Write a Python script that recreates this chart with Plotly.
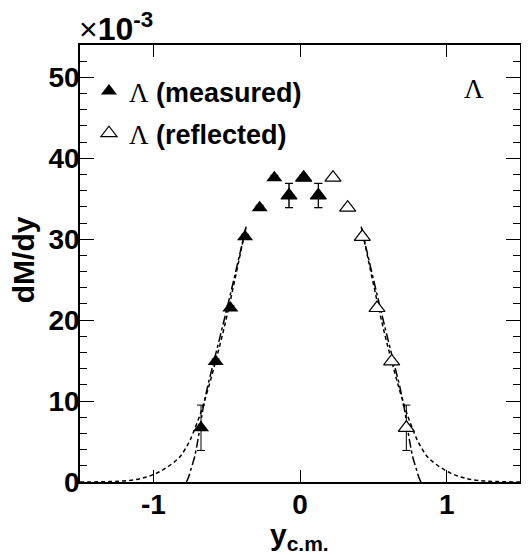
import plotly.graph_objects as go

# ---- data (dM/dy in units of 1e-3) ----
meas_x = [-0.675, -0.575, -0.475, -0.375, -0.275, -0.175, -0.075, 0.025, 0.125]
meas_y = [6.7, 14.9, 21.5, 30.3, 33.9, 37.6, 35.4, 37.6, 35.4]
meas_err = [2.8, 0.3, 0.3, 0.3, 0.3, 0.3, 1.5, 0.3, 1.5]

refl_x = [0.725, 0.625, 0.525, 0.425, 0.325, 0.225, 0.125, 0.025, -0.075]
refl_y = [6.7, 14.9, 21.5, 30.3, 33.9, 37.6, 35.4, 37.6, 35.4]
refl_err = [2.8, 0.3, 0.3, 0.3, 0.3, 0.3, 1.5, 0.3, 1.5]

# wide (dotted) fit curve, left and right wings
fitA_left_x = [-1.50, -1.30, -1.16, -1.06, -0.98, -0.90, -0.82, -0.76, -0.73, -0.68,
               -0.63, -0.58, -0.53, -0.48, -0.43, -0.40, -0.367]
fitA_left_y = [0.0, 0.05, 0.2, 0.55, 1.07, 1.9, 3.1, 4.8, 6.0, 8.4,
               11.3, 14.6, 18.1, 22.0, 26.2, 28.8, 31.6]
fitA_right_x = [1.55, 1.35, 1.21, 1.11, 1.03, 0.95, 0.87, 0.81, 0.78, 0.73,
                0.68, 0.63, 0.58, 0.53, 0.48, 0.45, 0.417]
fitA_right_y = [0.0, 0.05, 0.2, 0.55, 1.07, 1.9, 3.1, 4.8, 6.0, 8.4,
                11.3, 14.6, 18.1, 22.0, 26.2, 28.8, 31.6]

# steep (dash-dotted) fit curve, left and right wings
fitB_left_x = [-0.775, -0.76, -0.74, -0.72, -0.70, -0.68, -0.66, -0.63, -0.60,
               -0.55, -0.50, -0.45, -0.40, -0.367]
fitB_left_y = [0.0, 0.6, 1.8, 3.0, 4.8, 7.0, 9.2, 11.8, 14.0,
               17.6, 21.3, 25.1, 29.0, 31.6]
fitB_right_x = [0.825, 0.81, 0.79, 0.77, 0.75, 0.73, 0.71, 0.68, 0.65,
                0.60, 0.55, 0.50, 0.45, 0.417]
fitB_right_y = [0.0, 0.6, 1.8, 3.0, 4.8, 7.0, 9.2, 11.8, 14.0,
                17.6, 21.3, 25.1, 29.0, 31.6]

x_tickvals = [-1, 0, 1]
x_ticktext = ["-1", "0", "1"]
y_tickvals = [0, 10, 20, 30, 40, 50]
y_ticktext = ["0", "10", "20", "30", "40", "50"]

LAMBDA = "<span style='font-family:Liberation Serif;font-weight:normal'>\u039b</span>"

fig = go.Figure()

for xs, ys in [(fitA_left_x, fitA_left_y), (fitA_right_x, fitA_right_y)]:
    fig.add_trace(go.Scatter(x=xs, y=ys, mode="lines", line_shape="spline",
                             line=dict(color="black", width=1.5, dash="4px,3px"),
                             showlegend=False, hoverinfo="skip"))
for xs, ys in [(fitB_left_x, fitB_left_y), (fitB_right_x, fitB_right_y)]:
    fig.add_trace(go.Scatter(x=xs, y=ys, mode="lines", line_shape="spline",
                             line=dict(color="black", width=1.5, dash="dashdot"),
                             showlegend=False, hoverinfo="skip"))

fig.add_trace(go.Scatter(
    x=refl_x, y=refl_y, mode="markers",
    name=LAMBDA + " <b>(reflected)</b>", legendrank=2, legendgroup="refl",
    marker=dict(symbol="triangle-up", size=14, color="white",
                line=dict(color="black", width=1.2)),
    error_y=dict(type="data", array=refl_err, color="black", thickness=1, width=4),
))
fig.add_trace(go.Scatter(
    x=meas_x, y=meas_y, mode="markers",
    name=LAMBDA + " <b>(measured)</b>", legendrank=1, legendgroup="meas",
    marker=dict(symbol="triangle-up", size=14, color="black",
                line=dict(color="black", width=0)),
    error_y=dict(type="data", array=meas_err, color="black", thickness=1, width=4),
))

# page has an 8px body margin; layout numbers below are figure pixels
OFF = 8
L, R, T, B = 72, 7, 37, 73
W, H = 521, 547
PW, PH = W - L - R, H - T - B


def px(xs):
    """screen x pixel -> paper x"""
    return (xs - OFF - L) / PW


def py(ys):
    """screen y pixel -> paper y"""
    return (T + PH - (ys - OFF)) / PH


fig.update_layout(
    width=W, height=H,
    margin=dict(l=L, r=R, t=T, b=B),
    paper_bgcolor="white", plot_bgcolor="white",
    font=dict(family="Liberation Sans, Arial, sans-serif", color="black"),
    showlegend=True,
    legend=dict(x=px(89), y=py(67), xanchor="left", yanchor="top",
                bgcolor="rgba(0,0,0,0)", borderwidth=0,
                font=dict(size=27, color="black"), itemwidth=30,
                tracegroupgap=4),
    xaxis=dict(range=[-1.5, 1.5], tickvals=x_tickvals, ticktext=x_ticktext,
               ticks="inside", ticklen=12, tickwidth=1.2, tickcolor="black",
               showline=True, linecolor="black", linewidth=1.5, mirror="allticks",
               showgrid=False, zeroline=False, ticklabelstandoff=-3,
               tickfont=dict(size=28, weight="bold")),
    yaxis=dict(range=[0, 54], tickvals=y_tickvals, ticktext=y_ticktext,
               ticks="inside", ticklen=14, tickwidth=1.2, tickcolor="black",
               minor=dict(dtick=2, ticks="inside", ticklen=7, tickcolor="black",
                          tickwidth=1.2, showgrid=False),
               showline=True, linecolor="black", linewidth=1.5, mirror="allticks",
               showgrid=False, zeroline=False,
               tickfont=dict(size=28, weight="bold"), ticklabelstandoff=-7),
    annotations=[
        dict(text="\u00d7<b>10</b><sup><b>-3</b></sup>", xref="paper", yref="paper",
             x=px(77), y=py(49), xanchor="left", yanchor="bottom", showarrow=False,
             font=dict(size=32, color="black")),
        dict(text="\u039b", xref="paper", yref="paper", x=px(476), y=py(89),
             xanchor="center", yanchor="middle", showarrow=False,
             font=dict(size=27, family="Liberation Serif", color="black")),
        dict(text="<b>y<sub>c.m.</sub></b>", xref="paper", yref="paper",
             x=px(300), y=py(536), xanchor="center", yanchor="middle", showarrow=False,
             font=dict(size=30, color="black")),
        dict(text="<b>dM/dy</b>", xref="paper", yref="paper", x=px(23), y=py(260),
             xanchor="center", yanchor="middle", textangle=-90, showarrow=False,
             font=dict(size=30, color="black")),
    ],
)

fig.write_html("out.html")
